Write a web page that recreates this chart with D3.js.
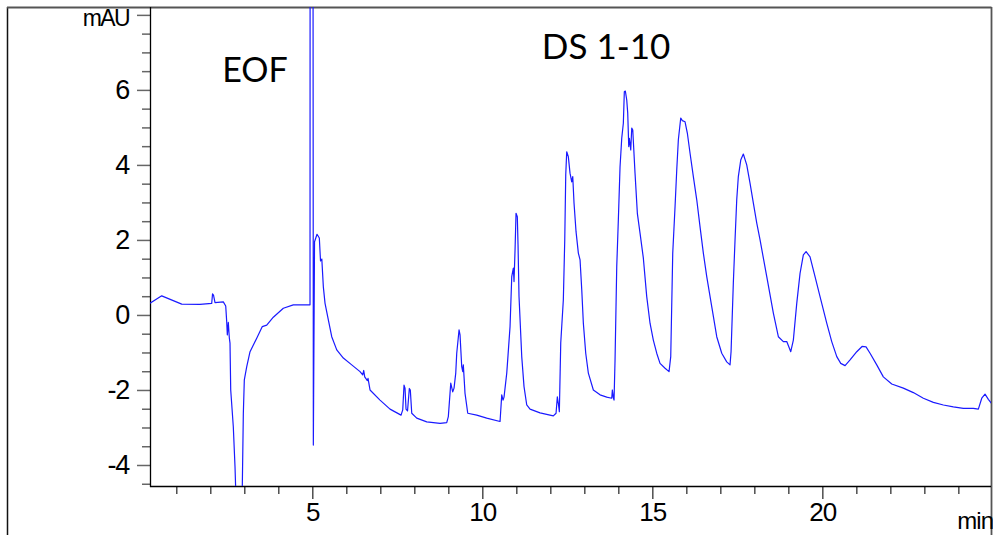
<!DOCTYPE html>
<html>
<head>
<meta charset="utf-8">
<script src="https://cdn.jsdelivr.net/npm/d3@7/dist/d3.min.js"></script>
<style>
  html, body { margin: 0; padding: 0; background: #fff; }
  svg { display: block; }
</style>
</head>
<body>
<svg id="chart" width="993" height="535"></svg>
<script>
// ---- data (time in min, absorbance in mAU) ----
const times = [0.226,0.571,1.159,1.697,2.041,2.065,2.094,2.138,2.382,2.453,2.482,2.5,2.529,2.559,2.579,2.6,2.676,2.726,2.756,2.81,2.918,2.941,2.971,3.0,3.071,3.168,3.365,3.529,3.659,3.853,4.147,4.441,4.882,4.932,4.935,5.02,5.03,5.065,5.138,5.206,5.241,5.279,5.324,5.374,5.471,5.571,5.718,5.912,6.159,6.403,6.482,6.512,6.541,6.618,6.638,6.697,6.991,7.285,7.609,7.659,7.697,7.726,7.756,7.8,7.853,7.882,7.924,8.071,8.365,8.756,8.953,9.0,9.071,9.129,9.168,9.218,9.247,9.315,9.344,9.394,9.424,9.441,9.491,9.571,9.835,10.129,10.521,10.571,10.609,10.638,10.718,10.756,10.815,10.865,10.912,10.932,10.962,10.991,11.029,11.05,11.079,11.159,11.226,11.306,11.403,11.697,12.088,12.168,12.206,12.241,12.265,12.306,12.382,12.424,12.453,12.482,12.529,12.579,12.629,12.659,12.697,12.756,12.824,12.874,12.924,12.971,13.041,13.118,13.265,13.462,13.659,13.806,13.824,13.853,13.874,13.903,13.953,14.0,14.05,14.1,14.147,14.176,14.206,14.247,14.276,14.306,14.324,14.365,14.394,14.424,14.491,14.559,14.638,14.735,14.835,14.932,15.029,15.129,15.226,15.374,15.491,15.541,15.6,15.668,15.718,15.765,15.835,15.882,15.962,16.029,16.109,16.206,16.306,16.403,16.5,16.6,16.747,16.894,17.041,17.188,17.285,17.315,17.382,17.432,17.482,17.529,17.6,17.676,17.776,17.874,17.971,18.071,18.168,18.365,18.559,18.706,18.853,18.953,19.071,19.147,19.247,19.344,19.441,19.521,19.638,19.785,19.932,20.129,20.276,20.424,20.541,20.668,20.815,21.012,21.168,21.285,21.403,21.6,21.794,22.041,22.382,22.676,22.971,23.265,23.559,23.853,24.147,24.441,24.588,24.688,24.785,24.882,24.982];
const signal = [0.31,0.51,0.29,0.28,0.31,0.56,0.53,0.33,0.35,0.24,-0.18,-0.53,-0.2,-0.61,-0.75,-2.0,-2.98,-4.04,-4.93,-6.5,-6.5,-4.56,-2.62,-1.73,-1.38,-0.98,-0.62,-0.31,-0.27,-0.06,0.18,0.27,0.27,0.27,11,11,-3.47,1.95,2.15,2.05,1.44,1.49,0.75,0.31,-0.13,-0.58,-0.93,-1.15,-1.33,-1.51,-1.6,-1.48,-1.65,-1.75,-1.69,-2.0,-2.27,-2.51,-2.67,-2.53,-1.87,-1.95,-2.51,-2.56,-1.96,-2.0,-2.62,-2.75,-2.85,-2.89,-2.87,-2.71,-1.82,-2.05,-1.95,-1.55,-1.02,-0.4,-0.53,-1.38,-1.51,-1.33,-2.09,-2.62,-2.67,-2.75,-2.84,-2.13,-2.27,-2.19,-1.55,-1.07,-0.31,1.02,1.25,0.89,1.73,2.71,2.62,1.87,0.49,-1.11,-1.91,-2.4,-2.51,-2.61,-2.69,-2.62,-2.18,-2.4,-2.58,-0.75,0.4,2.0,3.73,4.35,4.22,3.78,3.55,3.69,2.98,2.22,1.65,1.47,0.67,-0.22,-1.02,-1.55,-2.0,-2.13,-2.19,-2.22,-2.0,-2.21,-2.27,-1.2,1.29,2.53,3.95,4.71,5.11,5.95,5.97,5.73,5.38,4.49,4.71,4.4,4.98,4.93,3.78,2.71,2.18,1.52,0.49,-0.22,-0.67,-1.02,-1.29,-1.42,-1.51,-1.11,1.65,2.89,3.87,4.67,5.25,5.18,5.15,4.85,4.31,3.69,3.07,2.35,1.65,1.02,0.22,-0.58,-1.02,-1.25,-1.33,-0.98,0.85,2.0,3.07,3.69,4.13,4.29,4.0,3.51,2.98,2.45,2.0,1.02,0.05,-0.58,-0.71,-0.71,-0.98,-0.67,0.31,1.11,1.6,1.69,1.55,1.02,0.49,-0.22,-0.71,-1.11,-1.29,-1.35,-1.2,-0.98,-0.84,-0.85,-1.02,-1.33,-1.65,-1.84,-1.95,-2.07,-2.22,-2.33,-2.4,-2.45,-2.49,-2.49,-2.51,-2.22,-2.11,-2.25,-2.37];

const xDomain = [0.226, 24.96];
const yDomain = [-4.56, 8.21];
const xMajorTicks = [5, 10, 15, 20];
const xMinorTicks = [1,2,3,4,6,7,8,9,11,12,13,14,16,17,18,19,21,22,23,24];
const yMajorTicks = [-4, -2, 0, 2, 4, 6, 8];
const yTickLabels = ["-4", "-2", "0", "2", "4", "6", "mAU"];
const yMinorTicks = [-4.5,-3.5,-3,-2.5,-1.5,-1,-0.5,0.5,1,1.5,2.5,3,3.5,4.5,5,5.5,6.5,7,7.5];
const xUnit = "min";
const annotations = [{text: "EOF", t: 2.35, v: 6.2}, {text: "DS 1-10", t: 11.75, v: 6.83}];

// ---- layout ----
const svg = d3.select("#chart");
const L = 150, R = 991, T = 7, B = 486;
const x = d3.scaleLinear().domain(xDomain).range([L, R]);
const y = d3.scaleLinear().domain(yDomain).range([B, T]);

// frame
svg.append("line").attr("x1", 7.5).attr("x2", 7.5).attr("y1", 7).attr("y2", 535)
  .attr("stroke", "#111").attr("stroke-width", 1.5);
svg.append("line").attr("x1", 7).attr("x2", 991.5).attr("y1", 7.5).attr("y2", 7.5)
  .attr("stroke", "#555").attr("stroke-width", 1.8);
svg.append("line").attr("x1", 991.5).attr("x2", 991.5).attr("y1", 7).attr("y2", 535)
  .attr("stroke", "#555").attr("stroke-width", 1.8);

// clip
svg.append("defs").append("clipPath").attr("id", "plotclip")
  .append("rect").attr("x", L).attr("y", T).attr("width", R - L).attr("height", B - T);

// X axis
const gx = svg.append("g").attr("transform", `translate(0,${B})`);
gx.call(d3.axisBottom(x).tickValues(xMinorTicks).tickSize(8).tickFormat(""))
  .call(g => g.select(".domain").remove());
gx.selectAll(".tick line").attr("stroke", "#222").attr("stroke-width", 1.2);
const gx2 = svg.append("g").attr("transform", `translate(0,${B})`);
gx2.call(d3.axisBottom(x).tickValues(xMajorTicks).tickSize(13).tickPadding(4).tickFormat(d3.format("d")))
  .call(g => g.select(".domain").remove());
gx2.selectAll(".tick line").attr("stroke", "#222").attr("stroke-width", 1.2);
gx2.selectAll(".tick text").attr("fill", "#000")
  .style("font-family", "'Liberation Sans', Arial, sans-serif").style("font-size", "26px")
  .attr("letter-spacing", "-0.8");
svg.append("line").attr("x1", L).attr("x2", R).attr("y1", B + 0.5).attr("y2", B + 0.5)
  .attr("stroke", "#000").attr("stroke-width", 1.3);
svg.append("text").attr("x", 993).attr("y", 529).attr("text-anchor", "end")
  .style("font-family", "'Liberation Sans', Arial, sans-serif").style("font-size", "24px")
  .attr("letter-spacing", "-1").text(xUnit);

// Y axis
const gy = svg.append("g").attr("transform", `translate(${L},0)`);
gy.call(d3.axisLeft(y).tickValues(yMinorTicks).tickSize(8).tickFormat(""))
  .call(g => g.select(".domain").remove());
gy.selectAll(".tick line").attr("stroke", "#666").attr("stroke-width", 1.5);
const gy2 = svg.append("g").attr("transform", `translate(${L},0)`);
gy2.call(d3.axisLeft(y).tickValues(yMajorTicks).tickSize(13).tickPadding(8)
    .tickFormat((d, i) => yTickLabels[i]))
  .call(g => g.select(".domain").remove());
gy2.selectAll(".tick line").attr("stroke", "#666").attr("stroke-width", 1.5);
gy2.selectAll(".tick text").attr("fill", "#000")
  .style("font-family", "'Liberation Sans', Arial, sans-serif").style("font-size", "27px")
  .attr("letter-spacing", "-1.2");
// mAU label hangs below its tick
gy2.selectAll(".tick text").filter(d => d === 8)
  .attr("dy", null).attr("y", 11).style("font-size", "23px").attr("letter-spacing", "-1.6");
svg.append("line").attr("x1", L + 0.5).attr("x2", L + 0.5).attr("y1", T).attr("y2", B + 1)
  .attr("stroke", "#000").attr("stroke-width", 1.3);

// trace
const pts = times.map((t, i) => [t, signal[i]]);
const line = d3.line().x(d => x(d[0])).y(d => y(d[1]));
svg.append("path").datum(pts).attr("clip-path", "url(#plotclip)")
  .attr("d", line).attr("fill", "none").attr("stroke", "#1a1aff")
  .attr("stroke-width", 1.2).attr("stroke-linejoin", "round");

// annotations
svg.selectAll("text.ann").data(annotations).enter().append("text").attr("class", "ann")
  .attr("x", d => x(d.t)).attr("y", d => y(d.v))
  .style("font-family", "Lato, 'Open Sans', sans-serif")
  .style("font-size", (d, i) => i === 0 ? "34px" : "35px")
  .attr("fill", "#000").text(d => d.text);
</script>
</body>
</html>
